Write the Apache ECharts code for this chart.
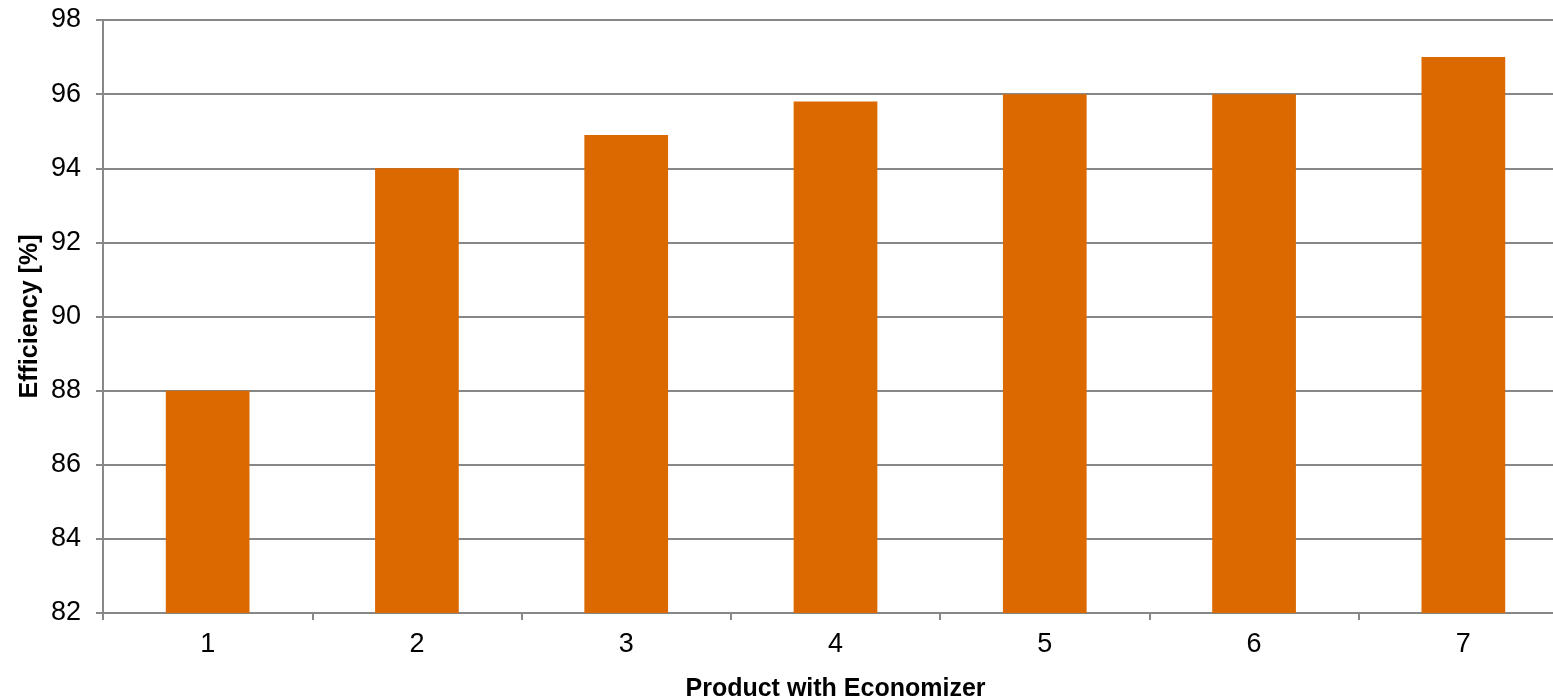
<!DOCTYPE html>
<html>
<head>
<meta charset="utf-8">
<script src="https://cdn.jsdelivr.net/npm/echarts@6/dist/echarts.min.js"></script>
<style>
  html, body { margin: 0; padding: 0; background: #ffffff; overflow: hidden; }
  #chart { width: 1553px; height: 696px; }
</style>
</head>
<body>
<div id="chart"></div>
<script>
// Boiler efficiency per product fitted with an economizer
const products = ['1', '2', '3', '4', '5', '6', '7'];
const efficiency = [88, 94, 94.9, 95.8, 96, 96, 97];

const axisGray = '#878787';
const barColor = '#dc6900';
const font = 'Arial, "Liberation Sans", sans-serif';

const chart = echarts.init(document.getElementById('chart'));
chart.setOption({
  animation: false,
  backgroundColor: '#ffffff',
  grid: {
    left: 103, right: -15, top: 20, bottom: 83,
    containLabel: false,
    outerBoundsMode: 'none'
  },
  xAxis: {
    type: 'category',
    data: products,
    name: 'Product with Economizer',
    nameLocation: 'middle',
    nameGap: 64,
    nameMoveOverlap: false,
    nameTextStyle: { fontFamily: font, fontWeight: 'bold', fontSize: 25, color: '#000' },
    axisLine: { lineStyle: { color: axisGray, width: 2 } },
    axisTick: { show: true, length: 7, lineStyle: { color: axisGray, width: 2 } },
    axisLabel: { fontFamily: font, fontSize: 27, color: '#000', margin: 18 }
  },
  yAxis: {
    type: 'value',
    min: 82,
    max: 98,
    interval: 2,
    name: 'Efficiency [%]',
    nameLocation: 'middle',
    nameGap: 60,
    nameMoveOverlap: false,
    nameTextStyle: { fontFamily: font, fontWeight: 'bold', fontSize: 25, color: '#000' },
    axisLine: { show: true, lineStyle: { color: axisGray, width: 2 } },
    axisTick: { show: true, length: 7, lineStyle: { color: axisGray, width: 2 } },
    axisLabel: { fontFamily: font, fontSize: 27, color: '#000', margin: 22 },
    splitLine: { show: true, lineStyle: { color: axisGray, width: 2 } }
  },
  series: [{
    type: 'bar',
    data: efficiency,
    barWidth: '40%',
    itemStyle: { color: barColor }
  }]
});
</script>
</body>
</html>
